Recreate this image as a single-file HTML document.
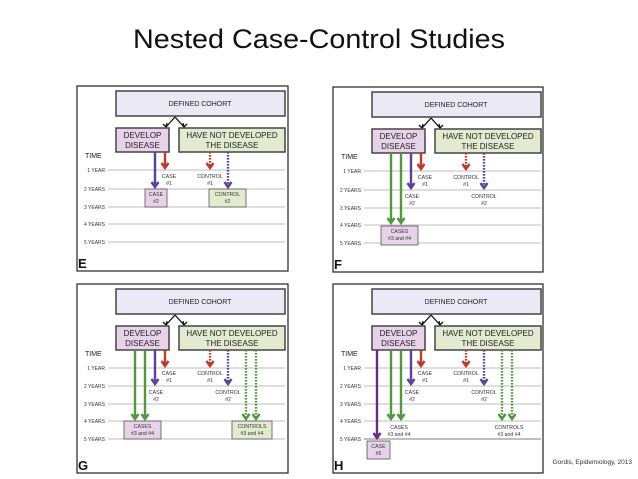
<!DOCTYPE html>
<html><head><meta charset="utf-8"><style>
html,body{margin:0;padding:0;background:#fff;}
svg{display:block;font-family:"Liberation Sans",Arial,sans-serif;}
.t{font-size:5.2px;fill:#333;}
.yl{font-size:5px;fill:#333;text-anchor:end;}
.bx{font-size:8px;fill:#222;text-anchor:middle;}
.c{text-anchor:middle;}
.grid{stroke:#bdbdbd;stroke-width:0.9;}
.pu{stroke:#5a3f9c;stroke-width:2.4;fill:none;}
.rd{stroke:#c0392b;stroke-width:2.4;fill:none;}
.gr{stroke:#4f9a3a;stroke-width:2.4;fill:none;}
.dot{stroke-dasharray:1.6 1.4;}
.dk{stroke:#6a2a86;stroke-width:2.4;fill:none;}
</style></head><body>
<svg width="638" height="479" viewBox="0 0 638 479" xmlns="http://www.w3.org/2000/svg">
<text x="319" y="48" text-anchor="middle" font-size="27" fill="#111" textLength="372" lengthAdjust="spacingAndGlyphs">Nested Case-Control Studies</text>
<text x="632" y="464" text-anchor="end" font-size="6.5" fill="#333">Gordis, Epidemiology, 2013</text>

<!-- PANEL E -->
<g transform="translate(77,86)">
<rect x="0" y="0" width="211" height="185" fill="#fff" stroke="#222" stroke-width="1.2"/>
<rect x="39" y="5" width="169" height="25" fill="#ebe9f6" stroke="#444" stroke-width="1.5"/>
<text x="123" y="20" class="c" font-size="7" fill="#222">DEFINED COHORT</text>
<path d="M98 31 L89 41 M98 31 L107 41" stroke="#111" stroke-width="1.3" fill="none"/>
<path d="M86 38 L89 41 L90 37 M110 38 L107 41 L106 37" stroke="#111" stroke-width="1.3" fill="none"/>
<rect x="39" y="42" width="53" height="24" fill="#e7d2ea" stroke="#444" stroke-width="1.5"/>
<text x="65.5" y="52" class="bx">DEVELOP</text><text x="65.5" y="62" class="bx">DISEASE</text>
<rect x="102" y="42" width="106" height="24" fill="#e2ebd0" stroke="#444" stroke-width="1.5"/>
<text x="155" y="52" class="bx">HAVE NOT DEVELOPED</text><text x="155" y="62" class="bx">THE DISEASE</text>
<text x="8" y="72" font-size="7" fill="#222">TIME</text>
<line class="grid" x1="31" y1="84" x2="208" y2="84"/><line class="grid" x1="31" y1="103" x2="208" y2="103"/><line class="grid" x1="31" y1="121" x2="208" y2="121"/><line class="grid" x1="31" y1="138" x2="208" y2="138"/><line class="grid" x1="31" y1="156" x2="208" y2="156"/>
<text class="yl" x="28" y="86">1 YEAR</text><text class="yl" x="28" y="105">2 YEARS</text><text class="yl" x="28" y="123">3 YEARS</text><text class="yl" x="28" y="140">4 YEARS</text><text class="yl" x="28" y="158">5 YEARS</text>
<text x="1" y="182" font-size="13" font-weight="bold" fill="#111">E</text>
<path class="pu" d="M78 66 V101 M74.5 96 L78 101 L81.5 96"/>
<path class="rd" d="M88 66 V82 M84.5 77 L88 82 L91.5 77"/>
<text class="t c" x="92" y="92">CASE</text><text class="t c" x="92" y="99">#1</text>
<rect x="68" y="103" width="22" height="18" fill="#e7d2ea" stroke="#555" stroke-width="0.8"/>
<text class="t c" x="79" y="110">CASE</text><text class="t c" x="79" y="117">#2</text>
<path class="rd dot" d="M133 66 V82"/><path class="rd" d="M129.5 77 L133 82 L136.5 77"/>
<path class="pu dot" d="M151 66 V101"/><path class="pu" d="M147.5 96 L151 101 L154.5 96"/>
<text class="t c" x="133" y="92">CONTROL</text><text class="t c" x="133" y="99">#1</text>
<rect x="132" y="103" width="37" height="18" fill="#e2ebd0" stroke="#555" stroke-width="0.8"/>
<text class="t c" x="150.5" y="110">CONTROL</text><text class="t c" x="150.5" y="117">#2</text>
</g>

<!-- PANEL F -->
<g transform="translate(333,87)">
<rect x="0" y="0" width="210" height="185" fill="#fff" stroke="#222" stroke-width="1.2"/>
<rect x="39" y="5" width="169" height="25" fill="#ebe9f6" stroke="#444" stroke-width="1.5"/>
<text x="123" y="20" class="c" font-size="7" fill="#222">DEFINED COHORT</text>
<path d="M98 31 L89 41 M98 31 L107 41" stroke="#111" stroke-width="1.3" fill="none"/>
<path d="M86 38 L89 41 L90 37 M110 38 L107 41 L106 37" stroke="#111" stroke-width="1.3" fill="none"/>
<rect x="39" y="42" width="53" height="24" fill="#e7d2ea" stroke="#444" stroke-width="1.5"/>
<text x="65.5" y="52" class="bx">DEVELOP</text><text x="65.5" y="62" class="bx">DISEASE</text>
<rect x="102" y="42" width="106" height="24" fill="#e2ebd0" stroke="#444" stroke-width="1.5"/>
<text x="155" y="52" class="bx">HAVE NOT DEVELOPED</text><text x="155" y="62" class="bx">THE DISEASE</text>
<text x="8" y="72" font-size="7" fill="#222">TIME</text>
<line class="grid" x1="31" y1="84" x2="208" y2="84"/><line class="grid" x1="31" y1="103" x2="208" y2="103"/><line class="grid" x1="31" y1="121" x2="208" y2="121"/><line class="grid" x1="31" y1="138" x2="208" y2="138"/><line class="grid" x1="31" y1="156" x2="208" y2="156"/>
<text class="yl" x="28" y="86">1 YEAR</text><text class="yl" x="28" y="105">2 YEARS</text><text class="yl" x="28" y="123">3 YEARS</text><text class="yl" x="28" y="140">4 YEARS</text><text class="yl" x="28" y="158">5 YEARS</text>
<text x="1" y="182" font-size="13" font-weight="bold" fill="#111">F</text>
<path class="gr" d="M58 66 V136 M54.5 131 L58 136 L61.5 131"/>
<path class="gr" d="M68 66 V136 M64.5 131 L68 136 L71.5 131"/>
<rect x="48" y="139" width="37" height="19" fill="#e7d2ea" stroke="#555" stroke-width="0.8"/>
<text class="t c" x="66.5" y="146">CASES</text><text class="t c" x="66.5" y="153">#3 and #4</text>
<path class="pu" d="M78 66 V101 M74.5 96 L78 101 L81.5 96"/>
<path class="rd" d="M88 66 V82 M84.5 77 L88 82 L91.5 77"/>
<text class="t c" x="92" y="92">CASE</text><text class="t c" x="92" y="99">#1</text>
<text class="t c" x="79" y="111">CASE</text><text class="t c" x="79" y="118">#2</text>
<path class="rd dot" d="M133 66 V82"/><path class="rd" d="M129.5 77 L133 82 L136.5 77"/>
<path class="pu dot" d="M151 66 V101"/><path class="pu" d="M147.5 96 L151 101 L154.5 96"/>
<text class="t c" x="133" y="92">CONTROL</text><text class="t c" x="133" y="99">#1</text>
<text class="t c" x="151" y="111">CONTROL</text><text class="t c" x="151" y="118">#2</text>
</g>

<!-- PANEL G -->
<g transform="translate(77,284)">
<rect x="0" y="0" width="211" height="189" fill="#fff" stroke="#222" stroke-width="1.2"/>
<rect x="39" y="5" width="169" height="25" fill="#ebe9f6" stroke="#444" stroke-width="1.5"/>
<text x="123" y="20" class="c" font-size="7" fill="#222">DEFINED COHORT</text>
<path d="M98 31 L89 41 M98 31 L107 41" stroke="#111" stroke-width="1.3" fill="none"/>
<path d="M86 38 L89 41 L90 37 M110 38 L107 41 L106 37" stroke="#111" stroke-width="1.3" fill="none"/>
<rect x="39" y="42" width="53" height="24" fill="#e7d2ea" stroke="#444" stroke-width="1.5"/>
<text x="65.5" y="52" class="bx">DEVELOP</text><text x="65.5" y="62" class="bx">DISEASE</text>
<rect x="102" y="42" width="106" height="24" fill="#e2ebd0" stroke="#444" stroke-width="1.5"/>
<text x="155" y="52" class="bx">HAVE NOT DEVELOPED</text><text x="155" y="62" class="bx">THE DISEASE</text>
<text x="8" y="72" font-size="7" fill="#222">TIME</text>
<line class="grid" x1="31" y1="84" x2="208" y2="84"/><line class="grid" x1="31" y1="102" x2="208" y2="102"/><line class="grid" x1="31" y1="120" x2="208" y2="120"/><line class="grid" x1="31" y1="137" x2="208" y2="137"/><line class="grid" x1="31" y1="155" x2="208" y2="155"/>
<text class="yl" x="28" y="86">1 YEAR</text><text class="yl" x="28" y="104">2 YEARS</text><text class="yl" x="28" y="122">3 YEARS</text><text class="yl" x="28" y="139">4 YEARS</text><text class="yl" x="28" y="157">5 YEARS</text>
<text x="1" y="186" font-size="13" font-weight="bold" fill="#111">G</text>
<path class="gr" d="M58 66 V135 M54.5 130 L58 135 L61.5 130"/>
<path class="gr" d="M68 66 V135 M64.5 130 L68 135 L71.5 130"/>
<rect x="47" y="137" width="37" height="18" fill="#e7d2ea" stroke="#555" stroke-width="0.8"/>
<text class="t c" x="65.5" y="144">CASES</text><text class="t c" x="65.5" y="151">#3 and #4</text>
<path class="pu" d="M78 66 V100 M74.5 95 L78 100 L81.5 95"/>
<path class="rd" d="M88 66 V82 M84.5 77 L88 82 L91.5 77"/>
<text class="t c" x="92" y="91">CASE</text><text class="t c" x="92" y="98">#1</text>
<text class="t c" x="79" y="110">CASE</text><text class="t c" x="79" y="117">#2</text>
<path class="rd dot" d="M133 66 V82"/><path class="rd" d="M129.5 77 L133 82 L136.5 77"/>
<path class="pu dot" d="M151 66 V100"/><path class="pu" d="M147.5 95 L151 100 L154.5 95"/>
<text class="t c" x="133" y="91">CONTROL</text><text class="t c" x="133" y="98">#1</text>
<text class="t c" x="151" y="110">CONTROL</text><text class="t c" x="151" y="117">#2</text>
<path class="gr dot" d="M169 66 V135"/><path class="gr" d="M165.5 130 L169 135 L172.5 130"/>
<path class="gr dot" d="M179 66 V135"/><path class="gr" d="M175.5 130 L179 135 L182.5 130"/>
<rect x="155" y="137" width="40" height="18" fill="#e2ebd0" stroke="#555" stroke-width="0.8"/>
<text class="t c" x="175" y="144">CONTROLS</text><text class="t c" x="175" y="151">#3 and #4</text>
</g>

<!-- PANEL H -->
<g transform="translate(333,284)">
<rect x="0" y="0" width="210" height="189" fill="#fff" stroke="#222" stroke-width="1.2"/>
<rect x="39" y="5" width="169" height="25" fill="#ebe9f6" stroke="#444" stroke-width="1.5"/>
<text x="123" y="20" class="c" font-size="7" fill="#222">DEFINED COHORT</text>
<path d="M98 31 L89 41 M98 31 L107 41" stroke="#111" stroke-width="1.3" fill="none"/>
<path d="M86 38 L89 41 L90 37 M110 38 L107 41 L106 37" stroke="#111" stroke-width="1.3" fill="none"/>
<rect x="39" y="42" width="53" height="24" fill="#e7d2ea" stroke="#444" stroke-width="1.5"/>
<text x="65.5" y="52" class="bx">DEVELOP</text><text x="65.5" y="62" class="bx">DISEASE</text>
<rect x="102" y="42" width="106" height="24" fill="#e2ebd0" stroke="#444" stroke-width="1.5"/>
<text x="155" y="52" class="bx">HAVE NOT DEVELOPED</text><text x="155" y="62" class="bx">THE DISEASE</text>
<text x="8" y="72" font-size="7" fill="#222">TIME</text>
<line class="grid" x1="31" y1="84" x2="208" y2="84"/><line class="grid" x1="31" y1="102" x2="208" y2="102"/><line class="grid" x1="31" y1="120" x2="208" y2="120"/><line class="grid" x1="31" y1="137" x2="208" y2="137"/><line x1="31" y1="155" x2="208" y2="155" stroke="#aaa" stroke-width="1.5"/>
<text class="yl" x="28" y="86">1 YEAR</text><text class="yl" x="28" y="104">2 YEARS</text><text class="yl" x="28" y="122">3 YEARS</text><text class="yl" x="28" y="139">4 YEARS</text><text class="yl" x="28" y="157">5 YEARS</text>
<text x="1" y="186" font-size="13" font-weight="bold" fill="#111">H</text>
<path class="dk" d="M44 66 V154 M40.5 149 L44 154 L47.5 149"/>
<rect x="34" y="157" width="23" height="18" fill="#e7d2ea" stroke="#555" stroke-width="0.8"/>
<text class="t c" x="45.5" y="164">CASE</text><text class="t c" x="45.5" y="171">#5</text>
<path class="gr" d="M58 66 V135 M54.5 130 L58 135 L61.5 130"/>
<path class="gr" d="M68 66 V135 M64.5 130 L68 135 L71.5 130"/>
<text class="t c" x="66" y="145">CASES</text><text class="t c" x="66" y="152">#3 and #4</text>
<path class="pu" d="M78 66 V100 M74.5 95 L78 100 L81.5 95"/>
<path class="rd" d="M88 66 V82 M84.5 77 L88 82 L91.5 77"/>
<text class="t c" x="92" y="91">CASE</text><text class="t c" x="92" y="98">#1</text>
<text class="t c" x="79" y="110">CASE</text><text class="t c" x="79" y="117">#2</text>
<path class="rd dot" d="M133 66 V82"/><path class="rd" d="M129.5 77 L133 82 L136.5 77"/>
<path class="pu dot" d="M151 66 V100"/><path class="pu" d="M147.5 95 L151 100 L154.5 95"/>
<text class="t c" x="133" y="91">CONTROL</text><text class="t c" x="133" y="98">#1</text>
<text class="t c" x="151" y="110">CONTROL</text><text class="t c" x="151" y="117">#2</text>
<path class="gr dot" d="M169 66 V135"/><path class="gr" d="M165.5 130 L169 135 L172.5 130"/>
<path class="gr dot" d="M179 66 V135"/><path class="gr" d="M175.5 130 L179 135 L182.5 130"/>
<text class="t c" x="176" y="145">CONTROLS</text><text class="t c" x="176" y="152">#3 and #4</text>
</g>
</svg>
</body></html>
